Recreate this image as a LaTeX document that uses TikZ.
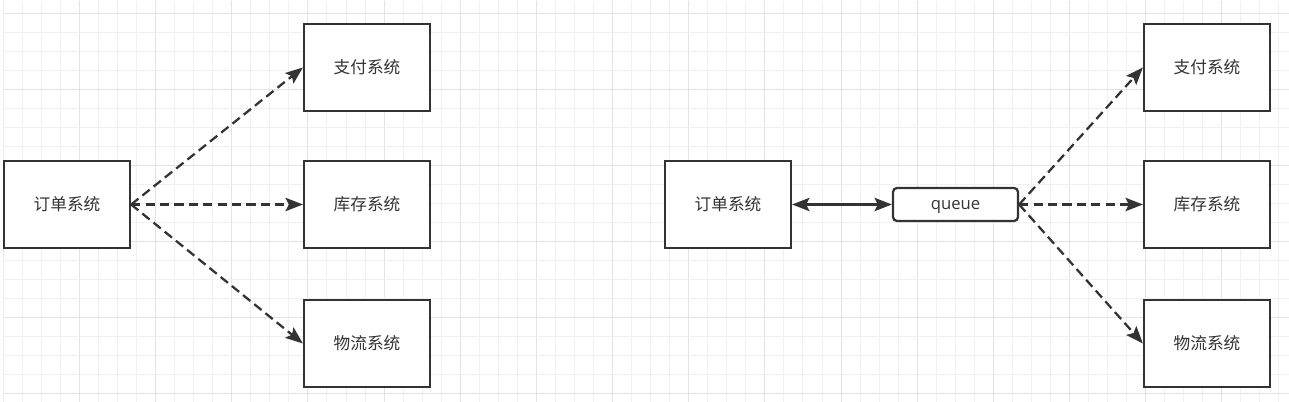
\documentclass[tikz,border=0pt]{standalone}
\usepackage{fontspec}
\newfontfamily\cjk{Noto Sans CJK SC}
\newfontfamily\latinf{Open Sans}
\usetikzlibrary{arrows.meta}
\definecolor{ink}{HTML}{333333}
\definecolor{gridminor}{HTML}{F0F0F0}
\definecolor{gridmajor}{HTML}{E3E3E3}
\begin{document}
\begin{tikzpicture}[x=0.75pt,y=-0.75pt,
  sysbox/.style={draw=ink, line width=1.7pt, fill=white, minimum width=94.5pt, minimum height=65.25pt, inner sep=0pt, font=\cjk\fontsize{12.5pt}{15pt}\selectfont, text=ink},
  queuebox/.style={draw=ink, line width=1.7pt, fill=white, rounded corners=3pt, minimum width=93.75pt, minimum height=24.75pt, inner sep=0pt, text height=8pt, text depth=0pt, font=\latinf\fontsize{12.5pt}{15pt}\selectfont, text=ink},
  dasharrow/.style={draw=ink, line width=1.7pt, dash pattern=on 7pt off 3.8pt, -{Stealth[length=13pt,width=10pt,inset=2.5pt]}},
  bothArrow/.style={draw=ink, line width=1.7pt, {Stealth[length=13pt,width=10pt,inset=2.5pt]}-{Stealth[length=13pt,width=10pt,inset=2.5pt]}},
]
\useasboundingbox (0,0) rectangle (1289,402);
\fill[white] (0,0) rectangle (1289,402);
\begin{scope}
\clip (3.3,1.5) rectangle (1289,402);
\foreach \k in {0,...,67}{
  \pgfmathsetmacro{\xx}{3.3+19.04*\k}
  \pgfmathtruncatemacro{\mm}{mod(\k,4)}
  \ifnum\mm=0
    \draw[gridmajor, line width=0.75pt] (\xx,0) -- (\xx,402);
  \else
    \draw[gridminor, line width=0.75pt] (\xx,0) -- (\xx,402);
  \fi
}
\foreach \k in {0,...,20}{
  \pgfmathsetmacro{\yy}{14+19*\k}
  \pgfmathtruncatemacro{\mm}{mod(\k,4)}
  \ifnum\mm=0
    \draw[gridmajor, line width=0.75pt] (0,\yy) -- (1289,\yy);
  \else
    \draw[gridminor, line width=0.75pt] (0,\yy) -- (1289,\yy);
  \fi
}
\end{scope}

% left diagram
\node[sysbox] (ordL) at (67,204.5) {订单系统};
\node[sysbox] (payL) at (367,67.5) {支付系统};
\node[sysbox] (stockL) at (367,204.5) {库存系统};
\node[sysbox] (logL) at (367,343.5) {物流系统};
\draw[dasharrow] (ordL.east) -- (payL.west);
\draw[dasharrow] (ordL.east) -- (stockL.west);
\draw[dasharrow] (ordL.east) -- (logL.west);

% right diagram
\node[sysbox] (ordR) at (728,204.5) {订单系统};
\node[queuebox] (queue) at (955.5,204.5) {queue};
\node[sysbox] (payR) at (1207,67.5) {支付系统};
\node[sysbox] (stockR) at (1207,204.5) {库存系统};
\node[sysbox] (logR) at (1207,343.5) {物流系统};
\draw[bothArrow] (ordR.east) -- (queue.west);
\draw[dasharrow] (queue.east) -- (payR.west);
\draw[dasharrow] (queue.east) -- (stockR.west);
\draw[dasharrow] (queue.east) -- (logR.west);
\end{tikzpicture}
\end{document}
